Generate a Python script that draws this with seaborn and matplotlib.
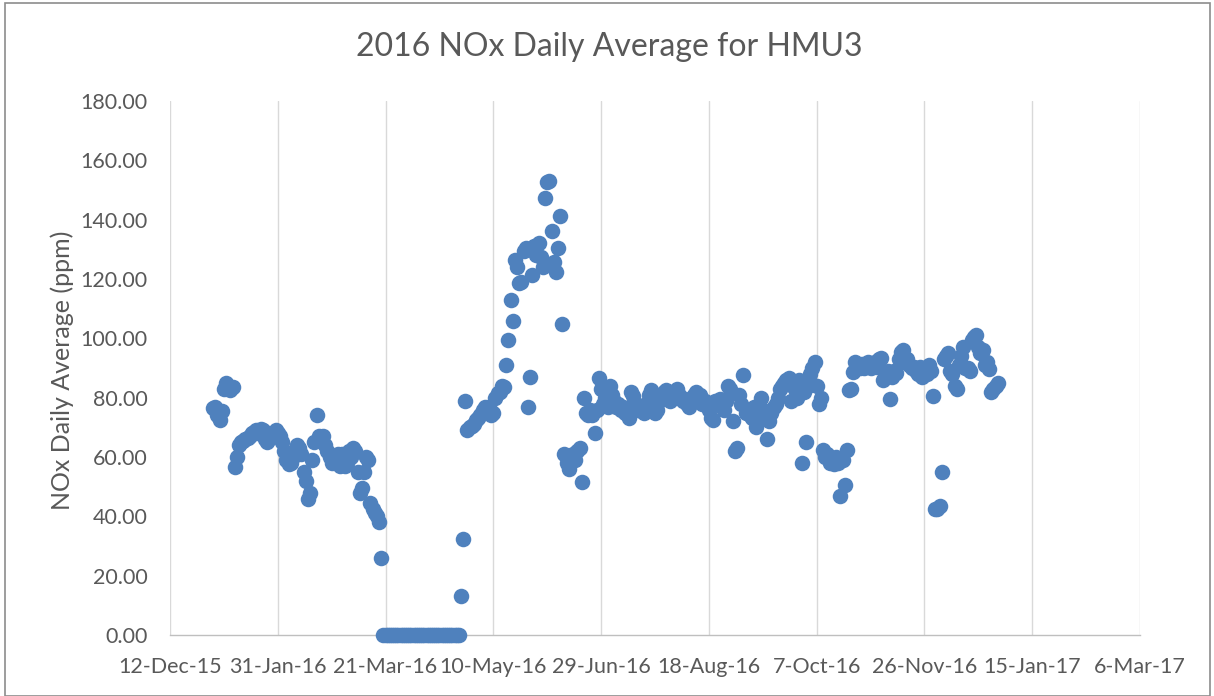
import pandas as pd
import numpy as np
import matplotlib
matplotlib.use('Agg')
import matplotlib.pyplot as plt
import matplotlib.dates as mdates
from matplotlib.ticker import FuncFormatter, MultipleLocator
from matplotlib.patches import Rectangle
import seaborn as sns

# Daily NOx averages (ppm), one list per month of 2016
jan = [76.5, 77, 74, 72.5, 75.5, 83, 85, 84, 82.5, 83.5, 56.5, 60, 64, 65, 65.5, 66,
       66.5, 67, 68, 68.5, 69, 68, 69.5, 69, 66, 65, 66, 67, 68, 69, 68]
feb = [67, 65, 62, 59, 57.5, 58, 60, 62, 64, 63, 61, 55, 52, 46, 48, 59, 65, 74, 67,
       66, 67, 64, 62, 60, 58, 59, 60, 61, 57]
mar = [61, 57, 58, 62, 60, 63, 62, 55, 48, 49.5, 55, 60, 59, 44.5, 42.5, 41, 40, 38,
       26] + [0] * 12
apr = [0] * 24 + [13, 32.5, 79, 69, 70, 70.5]
may = [71, 72.5, 73, 74, 76, 77, 76, 77, 74, 75, 80, 81.5, 82, 84, 83.5, 91, 99.5, 113,
       106, 126.5, 124, 118.6, 119, 129.5, 130.4, 77, 87, 121.3, 131, 128, 132]
jun = [127.4, 124, 147.3, 152.7, 153, 136.2, 125.7, 122.3, 130.4, 141.2, 105, 61, 58,
       56, 60, 61, 59, 62, 63, 51.5, 80, 75, 74, 76, 74, 68, 76, 86.5, 83, 78]
jul = [80, 77, 84, 81, 79, 77, 78, 76, 77, 75, 74.5, 73, 82, 80.5, 78, 76, 77, 75.5,
       75, 78, 81, 82.5, 78, 75, 76, 79, 80, 82, 82.5, 80, 79]
aug = [80, 81, 83, 81, 80, 79, 79.5, 78, 77, 79, 81, 82, 80, 81, 78, 79, 77.5, 76, 73,
       72.5, 79, 78, 79.5, 77, 76, 79, 84, 83, 72, 62, 63]
sep = [81, 78, 87.5, 75, 76, 74, 73, 77, 70, 72, 80, 76, 74, 66, 72, 75, 77, 78, 80,
       83, 84, 85, 86, 86.5, 79, 84, 83, 80, 86, 58]
oct_ = [82, 65, 84, 88, 90, 92, 84, 78, 80, 62.5, 60, 61, 58, 59, 57.5, 60, 58, 47, 59,
        50.5, 62.5, 82.5, 83, 88.5, 92, 91, 90, 91.5, 90, 91, 92]
nov = [90, 91, 92, 90.5, 93, 93.5, 86, 88, 89, 79.5, 87, 89, 88.3, 93, 95.4, 96, 92,
       93, 91, 90, 90.5, 89, 88, 90.3, 87, 89, 88, 91, 89, 80.5]
dec = [42.5, 42.5, 43.5, 55, 93, 94, 95, 89, 88, 84, 83, 91, 94, 97, 90, 90, 89, 99.5,
       100.5, 101, 97, 95, 96, 91, 92, 89.5, 82, 83, 84, 85]

months = [jan, feb, mar, apr, may, jun, jul, aug, sep, oct_, nov, dec]
frames = []
for i, vals in enumerate(months):
    start = pd.Timestamp(2016, i + 1, 1)
    frames.append(pd.DataFrame({'date': pd.date_range(start, periods=len(vals), freq='D'),
                                'nox': vals}))
df = pd.concat(frames, ignore_index=True)

sns.set_style('white')
plt.rcParams['font.family'] = ['Lato', 'DejaVu Sans']
txt = '#595959'

fig = plt.figure(figsize=(12.14, 6.96), dpi=100)
ax = fig.add_axes([170 / 1214, 1 - 635 / 696, 970 / 1214, 534 / 696])

sns.scatterplot(data=df, x='date', y='nox', ax=ax, color='#4F81BD', s=125,
                linewidth=0, clip_on=False, zorder=3)

x0 = pd.Timestamp('2015-12-12')
x1 = pd.Timestamp('2017-03-06')
ax.set_xlim(x0, x1)
ax.set_ylim(0, 180)
ax.set_xticks(pd.date_range(x0, x1, freq='50D'))
ax.xaxis.set_major_formatter(mdates.DateFormatter('%-d-%b-%y'))
ax.yaxis.set_major_locator(MultipleLocator(20))
ax.yaxis.set_major_formatter(FuncFormatter(lambda v, p: f'{v:.2f}'))

ax.grid(axis='x', color='#D9D9D9', linewidth=1)
ax.grid(axis='y', visible=False)
for side in ['left', 'top', 'right']:
    ax.spines[side].set_visible(False)
ax.spines['bottom'].set_color('#BFBFBF')
ax.spines['bottom'].set_linewidth(1)
ax.tick_params(axis='both', length=0, labelsize=15.5, labelcolor=txt)
ax.tick_params(axis='y', pad=16)
ax.tick_params(axis='x', pad=16)

ax.set_xlabel('')
ax.set_ylabel('')
fig.text(62 / 1214, 1 - 370 / 696, 'NOx Daily Average (ppm)', rotation=90,
         ha='center', va='center', fontsize=18, color=txt)
fig.text(0.502, 1 - 47 / 696, '2016 NOx Daily Average for HMU3', ha='center',
         va='center', fontsize=23, color=txt)

fig.patches.append(Rectangle((5 / 1214, 0), 1205 / 1214, 1 - 3 / 696,
                             transform=fig.transFigure, fill=False,
                             edgecolor='#8C8C8C', linewidth=1.2))

fig.savefig('out.png', dpi=100)
